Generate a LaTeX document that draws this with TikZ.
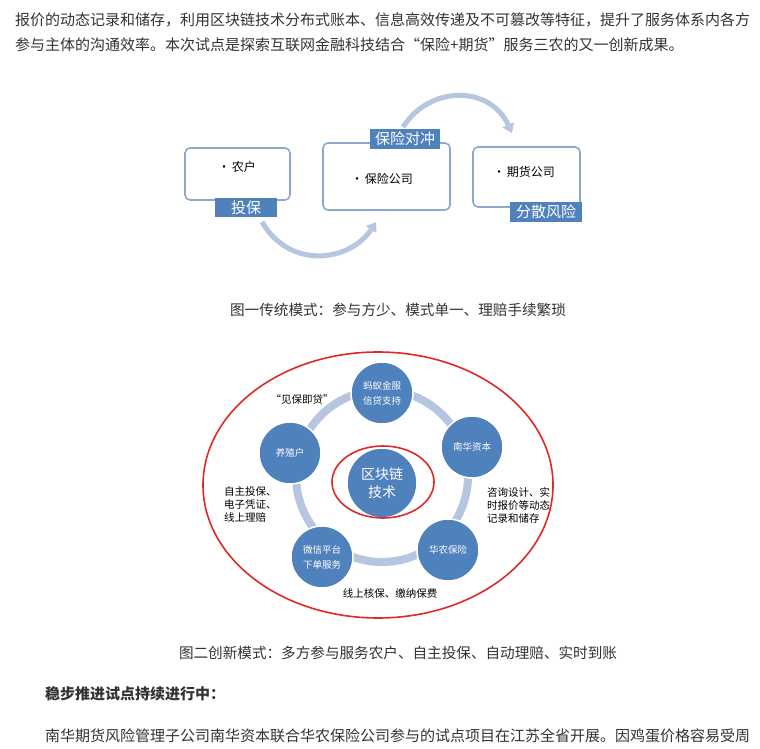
\documentclass[tikz,border=0pt]{standalone}
\usepackage{fontspec}
\setmainfont{Noto Sans CJK SC}
\usetikzlibrary{arrows.meta}
\definecolor{txtgray}{HTML}{333333}
\definecolor{boxblue}{HTML}{4F81BD}
\definecolor{edgeblue}{HTML}{8EA9CF}
\definecolor{ringblue}{HTML}{B7C6E0}
\definecolor{ovalred}{HTML}{E02828}
\tikzset{
  para/.style={anchor=west, inner sep=0pt, text=txtgray, font=\fontsize{15}{16}\selectfont},
  caption/.style={inner sep=0pt, text=txtgray, font=\fontsize{14.6}{16}\selectfont},
  whitebox/.style={draw=edgeblue, line width=1.6pt, rounded corners=5pt, fill=white},
  tag/.style={fill=boxblue, text=white, inner sep=3pt, font=\fontsize{15}{16}\selectfont},
  boxtext/.style={inner sep=0pt, font=\fontsize{12}{14}\selectfont},
  bluedot/.style={circle, fill=boxblue, draw=white, line width=1.5pt, minimum size=62pt, inner sep=0pt,
    text=white, align=center, font=\fontsize{9.5}{15}\selectfont},
  note/.style={inner sep=0pt, align=left, font=\fontsize{10.5}{13}\selectfont},
  flow/.style={-{Triangle[length=9pt,width=12pt]}, line width=5pt, draw=ringblue}
}
\begin{document}
\begin{tikzpicture}[x=1pt,y=-1pt]
\useasboundingbox[fill=white] (0,0) rectangle (760,749);
% text of the article
\node[para] (line1) at (15,20) {报价的动态记录和储存，利用区块链技术分布式账本、信息高效传递及不可篡改等特征，提升了服务体系内各方};
\node[para] (line2) at (15,45) {参与主体的沟通效率。本次试点是探索互联网金融科技结合“保险+期货”服务三农的又一创新成果。};
% figure one
\draw[flow] (262,222) .. controls (290,270) and (350,262) .. (376,222);
\draw[flow] (403,127) .. controls (430,85) and (490,85) .. (512,133);
\node[whitebox, minimum width=105pt, minimum height=52pt] (farmer) at (237.5,174) {};
\node[whitebox, minimum width=127pt, minimum height=67pt] (insurer) at (386.5,176.5) {};
\node[whitebox, minimum width=107pt, minimum height=60pt] (futures) at (526.5,177) {};
\node[boxtext] (farmer-t) at (237,167) {\textbullet\,农户};
\node[boxtext] (insurer-t) at (382,179) {\textbullet\,保险公司};
\node[boxtext] (futures-t) at (524,172) {\textbullet\,期货公司};
\node[tag, minimum width=62pt] (buy) at (246,207.5) {投保};
\node[tag, minimum width=70pt] (hedge) at (405,139) {保险对冲};
\node[tag, minimum width=72pt] (spread) at (546,212) {分散风险};
\node[caption] (cap1) at (398,310) {图一传统模式：参与方少、模式单一、理赔手续繁琐};
% figure two
\draw[ovalred, line width=1.6pt] (378,485) ellipse [x radius=175, y radius=133];
\draw[ringblue, line width=8pt] (382,476) circle [radius=86];
\node[bluedot] (ant) at (382,393) {蚂蚁金服\\信贷支持};
\node[bluedot] (nanhua) at (472,447) {南华资本};
\node[bluedot] (huanong) at (448,550) {华农保险};
\node[bluedot] (wechat) at (322,557) {微信平台\\下单服务};
\node[bluedot] (breeder) at (290,453) {养殖户};
\node[bluedot, minimum size=70pt, font=\fontsize{14}{18}\selectfont] (chain) at (382,483) {区块链\\技术};
\draw[ovalred, line width=1.6pt] (383,482) ellipse [x radius=51, y radius=36];
\node[note] (n-loan) at (302,399) {“见保即贷”};
\node[note, anchor=west] (n-self) at (224,505) {自主投保、\\电子凭证、\\线上理赔};
\node[note, anchor=west] (n-price) at (487,505) {咨询设计、实\\时报价等动态\\记录和储存};
\node[note] (n-online) at (390,593) {线上核保、缴纳保费};
\node[caption] (cap2) at (398,653) {图二创新模式：多方参与服务农户、自主投保、自动理赔、实时到账};
% rest of the article
\node[para, font=\bfseries\fontsize{15}{16}\selectfont] (head) at (45,694) {稳步推进试点持续进行中：};
\node[para] (line3) at (45,736) {南华期货风险管理子公司南华资本联合华农保险公司参与的试点项目在江苏全省开展。因鸡蛋价格容易受周};
\end{tikzpicture}
\end{document}
